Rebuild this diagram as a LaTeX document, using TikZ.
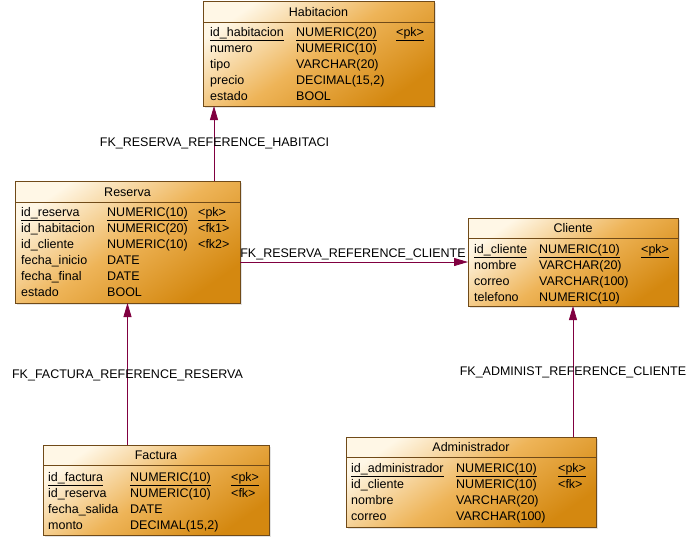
\documentclass[tikz,border=0pt]{standalone}
\usepackage{fontspec}
\setmainfont{Liberation Sans}
\usetikzlibrary{arrows.meta,shadows}
\definecolor{entlight}{RGB}{255,247,230}
\definecolor{entmid}{RGB}{238,180,88}
\definecolor{entdark}{RGB}{212,136,16}
\definecolor{entline}{RGB}{112,74,24}
\definecolor{fkcol}{RGB}{128,0,64}
\tikzset{
  entity/.style={draw=entline, line width=0.9pt, rectangle, inner sep=0pt, outer sep=0pt,
    anchor=north west, top color=entlight, bottom color=entdark, middle color=entmid,
    shading angle=35,
    drop shadow={shadow xshift=2pt, shadow yshift=-2pt, fill=black!18, opacity=0.6}},
  hdrline/.style={draw=entline, line width=0.9pt},
  cell/.style={anchor=base west, inner sep=0pt, font=\fontsize{12.5}{15}\selectfont},
  etitle/.style={anchor=base, inner sep=0pt, font=\fontsize{12.5}{15}\selectfont},
  fk/.style={draw=fkcol, line width=0.8pt, -{Triangle[length=14pt,width=8pt]}},
  fklabel/.style={inner sep=0pt, font=\fontsize{12.5}{15}\selectfont},
}
\newcommand\entrows[6]{%
  \foreach \ca/\cb/\cc [count=\i] in {#6} {
    \node[cell] (#1-\i-a) at (#2,{#5+16*(\i-1)}) {\ca};
    \node[cell] (#1-\i-b) at (#3,{#5+16*(\i-1)}) {\cb};
    \node[cell] (#1-\i-c) at (#4,{#5+16*(\i-1)}) {\cc};
  }}
\begin{document}
\begin{tikzpicture}[x=1pt,y=-1pt]
\useasboundingbox (0,0) rectangle (696,536);

% Habitacion
\node[entity, minimum width=231pt, minimum height=105pt] (hab) at (203,1) {};
\draw[hdrline] ([yshift=-21pt]hab.north west) -- ([yshift=-21pt]hab.north east);
\node[etitle] (hab-t) at ([yshift=-15.5pt]hab.north) {Habitacion};
\entrows{hab}{210}{296}{396}{36}{%
  \underline{id\_habitacion}/\underline{NUMERIC(20)}/\underline{<pk>},
  numero/NUMERIC(10)/{},
  tipo/VARCHAR(20)/{},
  precio/{DECIMAL(15,2)}/{},
  estado/BOOL/{}}

% Reserva
\node[entity, minimum width=225pt, minimum height=122pt] (res) at (15,181) {};
\draw[hdrline] ([yshift=-21pt]res.north west) -- ([yshift=-21pt]res.north east);
\node[etitle] (res-t) at ([yshift=-15pt]res.north) {Reserva};
\entrows{res}{21}{107}{198}{216.5}{%
  \underline{id\_reserva}/\underline{NUMERIC(10)}/\underline{<pk>},
  id\_habitacion/NUMERIC(20)/<fk1>,
  id\_cliente/NUMERIC(10)/<fk2>,
  fecha\_inicio/DATE/{},
  fecha\_final/DATE/{},
  estado/BOOL/{}}

% Cliente
\node[entity, minimum width=210pt, minimum height=88pt] (cli) at (468,218) {};
\draw[hdrline] ([yshift=-20pt]cli.north west) -- ([yshift=-20pt]cli.north east);
\node[etitle] (cli-t) at ([yshift=-14.5pt]cli.north) {Cliente};
\entrows{cli}{474}{539}{641}{253}{%
  \underline{id\_cliente}/\underline{NUMERIC(10)}/\underline{<pk>},
  nombre/VARCHAR(20)/{},
  correo/VARCHAR(100)/{},
  telefono/NUMERIC(10)/{}}

% Factura
\node[entity, minimum width=226pt, minimum height=90pt] (fac) at (43,445) {};
\draw[hdrline] ([yshift=-20pt]fac.north west) -- ([yshift=-20pt]fac.north east);
\node[etitle] (fac-t) at ([yshift=-14.5pt]fac.north) {Factura};
\entrows{fac}{48}{130}{231}{481}{%
  \underline{id\_factura}/\underline{NUMERIC(10)}/\underline{<pk>},
  id\_reserva/NUMERIC(10)/<fk>,
  fecha\_salida/DATE/{},
  monto/{DECIMAL(15,2)}/{}}

% Administrador
\node[entity, minimum width=250pt, minimum height=90pt] (adm) at (346,437) {};
\draw[hdrline] ([yshift=-20pt]adm.north west) -- ([yshift=-20pt]adm.north east);
\node[etitle] (adm-t) at ([yshift=-14.5pt]adm.north) {Administrador};
\entrows{adm}{351}{456}{558}{472}{%
  \underline{id\_administrador}/\underline{NUMERIC(10)}/\underline{<pk>},
  id\_cliente/NUMERIC(10)/<fk>,
  nombre/VARCHAR(20)/{},
  correo/VARCHAR(100)/{}}

% connectors
\coordinate (hrx) at (214,0);
\draw[fk] (res.north -| hrx) -- (hab.south -| hrx);
\draw[fk] (res.east |- cli.west) -- (cli.west);
\draw[fk] (fac.north -| res.south) -- (res.south);
\draw[fk] (adm.north -| cli.south) -- (cli.south);

% labels
\node[fklabel] (l1) at (214.5,143) {FK\_RESERVA\_REFERENCE\_HABITACI};
\node[fklabel] (l2) at (353,254) {FK\_RESERVA\_REFERENCE\_CLIENTE};
\node[fklabel] (l3) at (127.5,375) {FK\_FACTURA\_REFERENCE\_RESERVA};
\node[fklabel] (l4) at (573,372) {FK\_ADMINIST\_REFERENCE\_CLIENTE};
\end{tikzpicture}
\end{document}
